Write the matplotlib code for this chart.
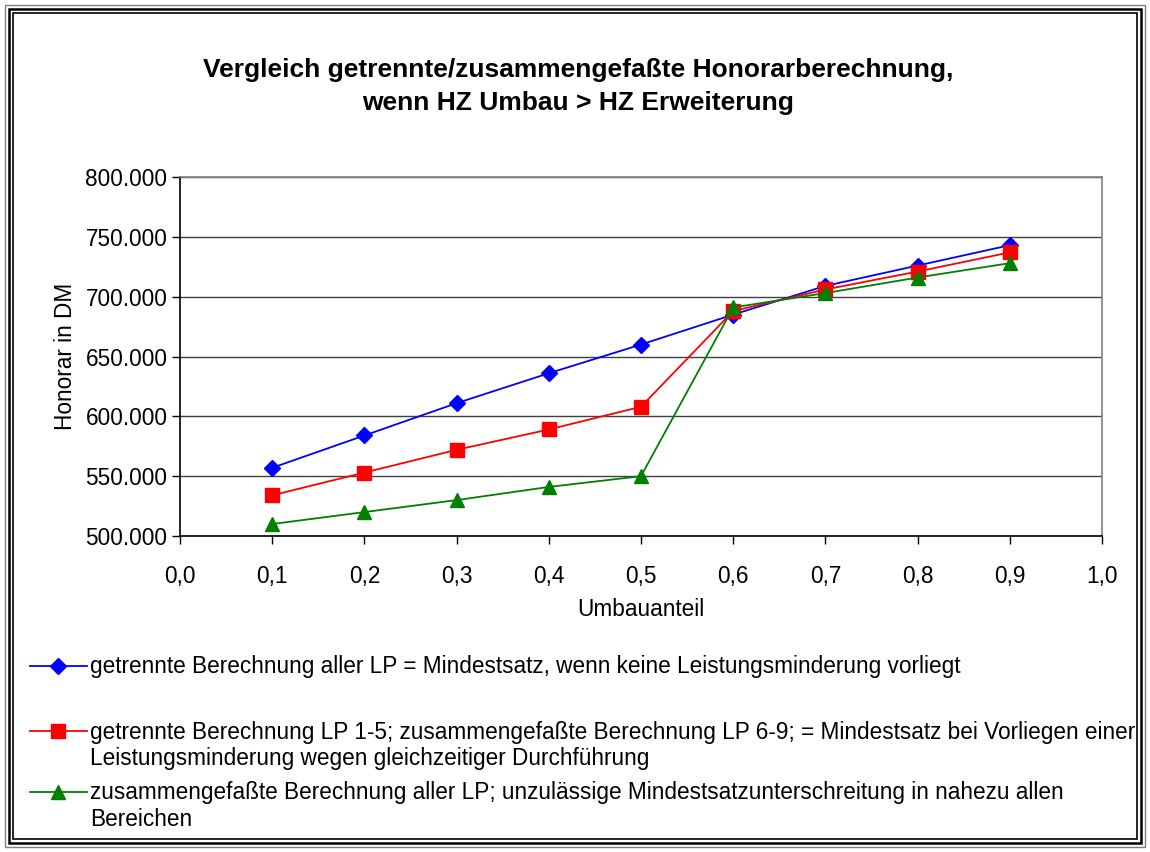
import matplotlib
matplotlib.use("Agg")
import matplotlib.pyplot as plt
from matplotlib.patches import Rectangle
from matplotlib.ticker import FuncFormatter, MultipleLocator

plt.rcParams['font.family'] = ['Liberation Sans', 'DejaVu Sans']

# data
umbauanteil = [0.1, 0.2, 0.3, 0.4, 0.5, 0.6, 0.7, 0.8, 0.9]
getrennt_alle = [557000, 584000, 611000, 636000, 660000, 685000, 709000, 726000, 743000]
getrennt_lp15 = [534000, 553000, 572000, 589000, 608000, 688000, 706000, 721000, 737000]
zusammen_alle = [510000, 520000, 530000, 541000, 550000, 691000, 703000, 716000, 728000]

# legend texts: first line next to the symbol, optional continuation line
labels = [
    "getrennte Berechnung aller LP = Mindestsatz, wenn keine Leistungsminderung vorliegt",
    "getrennte Berechnung LP 1-5; zusammengefaßte Berechnung LP 6-9; = Mindestsatz bei Vorliegen einer",
    "zusammengefaßte Berechnung aller LP; unzulässige Mindestsatzunterschreitung in nahezu allen",
]
label_cont = ["", "Leistungsminderung wegen gleichzeitiger Durchführung", "Bereichen"]
title_lines = ["Vergleich getrennte/zusammengefaßte Honorarberechnung,",
               "wenn HZ Umbau > HZ Erweiterung"]

W, H = 1150, 852
fs = 16.3
fig = plt.figure(figsize=(W / 100, H / 100), dpi=100)
ax = fig.add_axes([180 / W, 1 - 536 / H, 922 / W, 359 / H])

l1, = ax.plot(umbauanteil, getrennt_alle, color='#0000ff', lw=1.3, marker='D', ms=8.5)
l2, = ax.plot(umbauanteil, getrennt_lp15, color='#ff0000', lw=1.3, marker='s', ms=10)
l3, = ax.plot(umbauanteil, zusammen_alle, color='#008000', lw=1.3, marker='^', ms=10)

ax.set_xlim(0, 1.0)
ax.set_ylim(500000, 800000)
ax.xaxis.set_major_locator(MultipleLocator(0.1))
ax.yaxis.set_major_locator(MultipleLocator(50000))
ax.xaxis.set_major_formatter(FuncFormatter(lambda v, p: f"{v:.1f}".replace('.', ',')))
ax.yaxis.set_major_formatter(FuncFormatter(lambda v, p: f"{int(round(v)):,}".replace(',', '.')))
ax.grid(axis='y', color='#404040', lw=1.0)
ax.set_axisbelow(True)
ax.tick_params(labelsize=fs, length=6, width=1, direction='out')
ax.tick_params(axis='y', pad=3)
ax.tick_params(axis='x', pad=15)
for s in ['top', 'right']:
    ax.spines[s].set_color('#808080')
    ax.spines[s].set_linewidth(1.2)
for s in ['left', 'bottom']:
    ax.spines[s].set_color('black')
    ax.spines[s].set_linewidth(1.2)

ax.set_ylabel("Honorar in DM", fontsize=fs)
ax.yaxis.set_label_coords(-0.112, 0.5)
ax.set_xlabel("Umbauanteil", fontsize=fs)
ax.xaxis.set_label_coords(0.5, -0.172)

for txt, yc in zip(title_lines, [70, 103]):
    fig.text(0.5026, 1 - yc / H, txt, ha='center', va='center', fontsize=19,
             fontweight='bold')

# legend entries (one per series, Excel-style spacing)
for line, lab, cont, yc in zip([l1, l2, l3], labels, label_cont, [667, 732, 793]):
    fig.legend([line], [lab], loc='center left', bbox_to_anchor=(30 / W, 1 - yc / H),
               frameon=False, fontsize=fs, handlelength=2.5, handletextpad=0.15,
               borderpad=0, borderaxespad=0)
    if cont:
        fig.text(90 / W, 1 - (yc + 26) / H, cont, ha='left', va='center', fontsize=fs)

# double frame around the chart
fig.patches.append(Rectangle((5 / W, 5 / H), 1 - 10 / W, 1 - 10 / H, transform=fig.transFigure,
                             fill=False, ec='#808080', lw=1))
fig.patches.append(Rectangle((9 / W, 9 / H), 1 - 18 / W, 1 - 18 / H, transform=fig.transFigure,
                             fill=False, ec='black', lw=1.8))
fig.patches.append(Rectangle((13 / W, 13 / H), 1 - 26 / W, 1 - 26 / H, transform=fig.transFigure,
                             fill=False, ec='black', lw=1.2))

fig.savefig("out.png", dpi=100)
